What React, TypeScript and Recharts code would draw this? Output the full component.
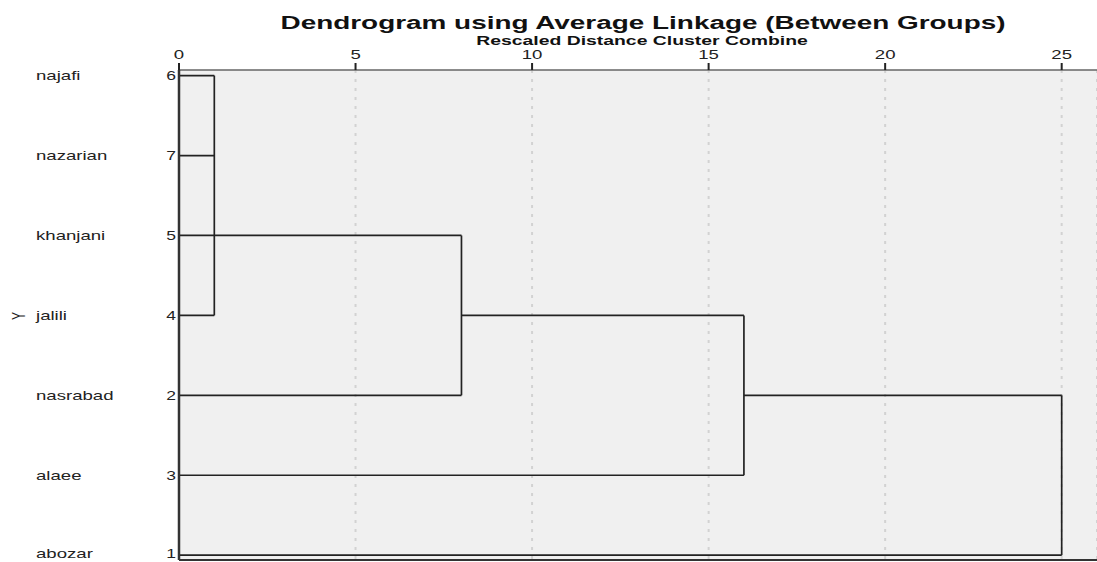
import React from 'react';
import {
  ComposedChart, Line, XAxis, YAxis, CartesianGrid, ReferenceLine,
} from 'recharts';

const LEAVES = ['najafi', 'nazarian', 'khanjani', 'jalili', 'nasrabad', 'alaee', 'abozar'];
const CASE_NUMBERS = [6, 7, 5, 4, 2, 3, 1];
const DIST_TICKS = [0, 5, 10, 15, 20, 25];

// each merge: rescaled distance, rows of the joined clusters, distance each child starts at
const MERGES = [
  { dist: 1, rows: [0, 1, 2, 3], from: [0, 0, 0, 0] },
  { dist: 8, rows: [2, 4], from: [1, 0] },
  { dist: 16, rows: [3, 5], from: [8, 0] },
  { dist: 25, rows: [4, 6], from: [16, 0] },
];

const Y_MIN = -0.07;
const Y_MAX = 6.06;
const FONT = '"Liberation Sans", Arial, sans-serif';
const STRETCH = 1.55;

type Pt = { x: number; y: number };

const segments: Pt[][] = [];
MERGES.forEach((m) => {
  m.rows.forEach((r, i) => {
    segments.push([{ x: m.from[i], y: r }, { x: m.dist, y: r }]);
  });
  segments.push([
    { x: m.dist, y: Math.min(...m.rows) },
    { x: m.dist, y: Math.max(...m.rows) },
  ]);
});

const DistTick = ({ x, y, payload }: { x?: number; y?: number; payload?: { value: number } }) => (
  <g transform={`translate(${x},${y}) scale(${STRETCH},1)`}>
    <text textAnchor="middle" y={-1} fontSize={12} fontFamily={FONT} fill="#222">
      {payload?.value}
    </text>
  </g>
);

const LeafTick = ({ y, payload }: { y?: number; payload?: { value: number } }) => {
  const i = payload?.value ?? 0;
  return (
    <g>
      <g transform={`translate(36,${y}) scale(${STRETCH},1)`}>
        <text textAnchor="start" dy={4.5} fontSize={12} fontFamily={FONT} fill="#222">
          {LEAVES[i]}
        </text>
      </g>
      <g transform={`translate(176,${y}) scale(1.4,1)`}>
        <text textAnchor="end" dy={4.5} fontSize={12.5} fontFamily={FONT} fill="#222">
          {CASE_NUMBERS[i]}
        </text>
      </g>
    </g>
  );
};

export default function App() {
  return (
    <div style={{ position: 'absolute', left: 0, top: 0, width: 1097, height: 562, background: '#fff', fontFamily: FONT }}>
      <div
        style={{
          position: 'absolute', left: 643, top: 14, fontSize: 18, lineHeight: '18px', fontWeight: 700,
          whiteSpace: 'nowrap', color: '#111', transform: `translateX(-50%) scaleX(${STRETCH})`,
        }}
      >
        Dendrogram using Average Linkage (Between Groups)
      </div>
      <div
        style={{
          position: 'absolute', left: 642, top: 35, fontSize: 12.5, lineHeight: '13px', fontWeight: 700,
          whiteSpace: 'nowrap', color: '#111', transform: `translateX(-50%) scaleX(${STRETCH})`,
        }}
      >
        Rescaled Distance Cluster Combine
      </div>
      <div
        style={{
          position: 'absolute', left: 19, top: 316, fontSize: 12, lineHeight: '12px', color: '#222',
          transform: `translate(-50%,-50%) scaleX(${STRETCH}) rotate(-90deg)`,
        }}
      >
        Y
      </div>
      <ComposedChart width={1097} height={562} margin={{ top: 50, right: 0, bottom: 2, left: 0 }}>
        <CartesianGrid
          fill="#f0f0f0"
          horizontal={false}
          stroke="#d2d2d2"
          strokeWidth={2}
          strokeDasharray="3 6"
        />
        <XAxis
          type="number"
          dataKey="x"
          orientation="top"
          domain={[0, 26]}
          ticks={DIST_TICKS}
          height={20}
          tickSize={7}
          tickMargin={3}
          tick={<DistTick />}
          axisLine={{ stroke: '#666', strokeWidth: 1.5 }}
          tickLine={{ stroke: '#222', strokeWidth: 2 }}
          allowDataOverflow
        />
        <YAxis
          type="number"
          reversed
          domain={[Y_MIN, Y_MAX]}
          ticks={LEAVES.map((_, i) => i)}
          width={179}
          tick={<LeafTick />}
          tickLine={false}
          axisLine={{ stroke: '#333', strokeWidth: 2.5 }}
          allowDataOverflow
        />
        <ReferenceLine y={Y_MAX} stroke="#333" strokeWidth={2} ifOverflow="visible" />
        {segments.map((seg, i) => (
          <Line
            key={i}
            data={seg}
            dataKey="y"
            type="linear"
            stroke="#222"
            strokeWidth={1.7}
            dot={false}
            activeDot={false}
            isAnimationActive={false}
          />
        ))}
      </ComposedChart>
    </div>
  );
}
